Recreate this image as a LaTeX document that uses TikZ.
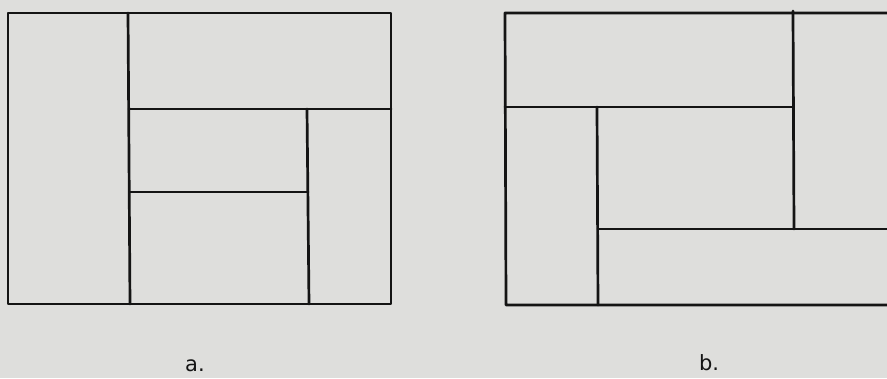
\documentclass[tikz,border=0pt]{standalone}
\usepackage{fontspec}
\newfontfamily\labelfont{DejaVu Sans}
\definecolor{paper}{RGB}{222,222,220}
\definecolor{ink}{RGB}{20,20,20}
\tikzset{wall/.style={draw=ink,line width=2.7pt,line cap=round,line join=round},
  caption/.style={font=\labelfont\fontsize{21}{24}\selectfont,text=ink,inner sep=0pt}}
\begin{document}
\begin{tikzpicture}[x=1pt,y=-1pt]
\fill[paper] (0,0) rectangle (887,378);
\useasboundingbox (0,0) rectangle (887,378);
% figure a
\draw[wall] (8,13) rectangle (391,304);
\draw[wall] (128,13) -- (130,304);
\draw[wall] (129,109) -- (391,109);
\draw[wall] (307,109) -- (309,304);
\draw[wall] (130,192) -- (308,192);
% figure b
\draw[wall] (887,13) -- (505,13) -- (506,305) -- (887,305);
\draw[wall] (505,107) -- (793,107);
\draw[wall] (793,11) -- (794,229);
\draw[wall] (597,107) -- (598,305);
\draw[wall] (598,229) -- (887,229);
% labels
\node[caption] (la) at (195,366) {a.};
\node[caption] (lb) at (709,363) {b.};
\end{tikzpicture}
\end{document}
